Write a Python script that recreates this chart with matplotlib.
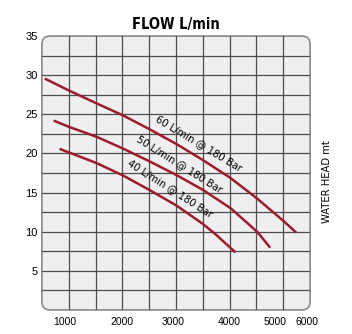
import matplotlib.pyplot as plt
from matplotlib.patches import FancyBboxPatch

# pump curves: flow (L/min) vs water head (m)
flow_60 = [574, 1000, 1519, 2019, 2519, 3019, 3500, 4019, 4519, 5019, 5222]
head_60 = [29.5, 28.06, 26.4, 24.84, 23.05, 21.16, 19.16, 16.85, 14.2, 11.28, 10.0]

flow_50 = [741, 1000, 1519, 2019, 2519, 3019, 3500, 4019, 4519, 4741]
head_50 = [24.14, 23.41, 22.13, 20.6, 18.95, 17.2, 15.35, 13.0, 9.95, 8.08]

flow_40 = [852, 1000, 1519, 2019, 2519, 3019, 3500, 3741, 4093]
head_40 = [20.52, 20.14, 18.77, 17.16, 15.28, 13.3, 11.0, 9.65, 7.45]

labels = ['60 L/min @ 180 Bar', '50 L/min @ 180 Bar', '40 L/min @ 180 Bar']
x_labels = ['1000', '2000', '3000', '4000', '5000', '6000']
y_labels = ['5', '10', '15', '20', '25', '30', '35']

red = '#9b1c2e'
grid_col = '#4d4d4d'
cond = dict(family='DejaVu Sans', stretch='condensed')
tick_font = 'Liberation Sans'

fig = plt.figure(figsize=(3.52, 3.34), dpi=100)
ax = fig.add_axes([0.119, 0.072, 0.762, 0.820])
ax.set_xlim(500, 5500)
ax.set_ylim(0, 35)

# rounded background panel
panel = FancyBboxPatch((0, 0), 1, 1, boxstyle='round,pad=0,rounding_size=0.03',
                       transform=ax.transAxes, facecolor='#efefef',
                       edgecolor='#8a8a8a', linewidth=1.2, zorder=0,
                       clip_on=False)
ax.add_patch(panel)
for s in ax.spines.values():
    s.set_visible(False)
ax.set_facecolor('none')

# grid
for gx in range(1000, 5500, 500):
    ax.axvline(gx, color=grid_col, lw=0.9, zorder=1)
for i in range(1, 14):
    ax.axhline(i * 2.5, color=grid_col, lw=0.9, zorder=1)

ax.plot(flow_60, head_60, color=red, lw=1.8, zorder=3)
ax.plot(flow_50, head_50, color=red, lw=1.8, zorder=3)
ax.plot(flow_40, head_40, color=red, lw=1.8, zorder=3)

# curve labels sit just above each line
ax.text(3425, 21.35, labels[0], rotation=-31, ha='center', va='center',
        fontsize=8, zorder=4, **cond)
ax.text(3065, 18.65, labels[1], rotation=-32, ha='center', va='center',
        fontsize=8, zorder=4, **cond)
ax.text(2885, 15.55, labels[2], rotation=-32.5, ha='center', va='center',
        fontsize=8, zorder=4, **cond)

ax.set_xticks([920, 2000, 2940, 4000, 4850, 5440])
ax.set_xticklabels(x_labels, family=tick_font, fontsize=7.5)
ax.set_yticks([5, 10, 15, 20, 25, 30, 35])
ax.set_yticklabels(y_labels, family=tick_font, fontsize=8)
ax.tick_params(length=0)
ax.tick_params(axis='x', pad=5)
ax.tick_params(axis='y', pad=3)

ax.set_title('FLOW L/min', fontsize=10.5, pad=5, weight='bold', **cond)
ax.set_ylabel('WATER HEAD mt', fontsize=8, **cond)
ax.yaxis.set_label_position('right')
ax.yaxis.set_label_coords(1.045, 0.467)

fig.savefig('out.png', dpi=100)
